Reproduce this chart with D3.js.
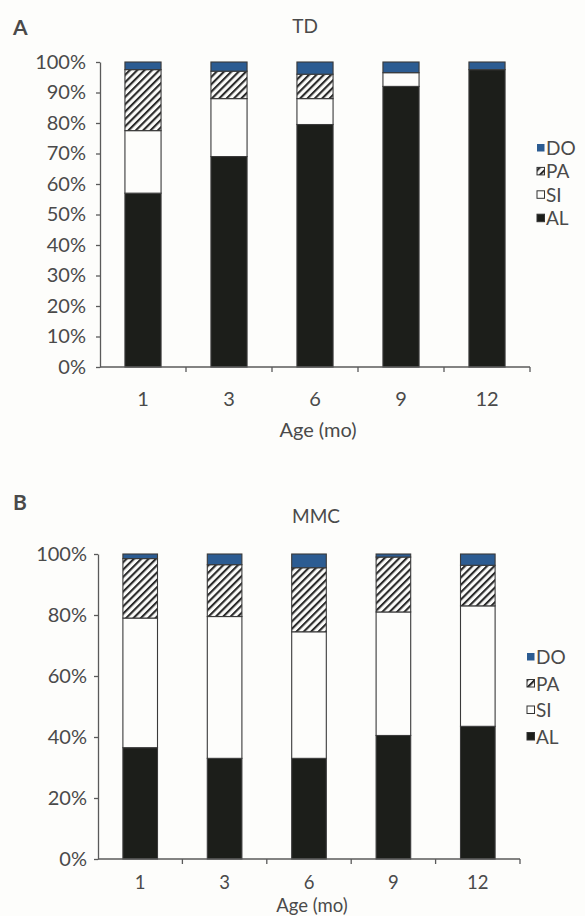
<!DOCTYPE html>
<html>
<head>
<meta charset="utf-8">
<script src="https://cdn.jsdelivr.net/npm/d3@7/dist/d3.min.js"></script>
<style>
  html, body { margin: 0; padding: 0; background: #fdfdfb; }
  svg { display: block; }
  text { font-family: Lato, "Noto Sans", sans-serif; fill: #4a4a4a; }
</style>
</head>
<body>
<svg id="chart" width="585" height="916"></svg>
<script>
// ---------- DATA ----------
const ages = ["1", "3", "6", "9", "12"];
const seriesKeys = ["AL", "SI", "PA", "DO"];
const legendOrder = ["DO", "PA", "SI", "AL"];

// Panel A: TD (percent)
const tdAL = [57, 69, 79.5, 92, 97.5];
const tdSI = [20.5, 19, 8.5, 4.5, 0];
const tdPA = [20, 9, 8, 0, 0];
const tdDO = [2.5, 3, 4, 3.5, 2.5];

// Panel B: MMC (percent)
const mmcAL = [36.5, 33, 33, 40.5, 43.5];
const mmcSI = [42.5, 46.5, 41.5, 40.5, 39.5];
const mmcPA = [19.5, 17, 21, 18, 13.3];
const mmcDO = [1.5, 3.5, 4.5, 1, 3.7];

const tdTicks = [0, 10, 20, 30, 40, 50, 60, 70, 80, 90, 100];
const mmcTicks = [0, 20, 40, 60, 80, 100];

// ---------- DRAW ----------
const svg = d3.select("#chart");
const defs = svg.append("defs");
defs.append("pattern")
  .attr("id", "hatch")
  .attr("patternUnits", "userSpaceOnUse")
  .attr("width", 5.2).attr("height", 5.2)
  .attr("patternTransform", "rotate(45)")
  .call(p => {
    p.append("rect").attr("width", 5.2).attr("height", 5.2).attr("fill", "#fbfbf9");
    p.append("rect").attr("x", 0).attr("y", 0).attr("width", 2.1).attr("height", 5.2).attr("fill", "#2a2a2a");
  });

const fills = { AL: "#1c1e1a", SI: "#fdfdfb", PA: "url(#hatch)", DO: "#2c5c92" };

function panel(cfg) {
  const rows = ages.map((a, i) => ({
    age: a, AL: cfg.AL[i], SI: cfg.SI[i], PA: cfg.PA[i], DO: cfg.DO[i]
  }));
  const stacked = d3.stack().keys(seriesKeys)(rows);

  const x = d3.scaleBand().domain(ages).range([cfg.x0, cfg.x1])
    .paddingInner(cfg.pad).paddingOuter(cfg.pad / 2);
  const y = d3.scaleLinear().domain([0, 100]).range([cfg.yBot, cfg.yTop]);
  const g = svg.append("g");

  // bars
  stacked.forEach(s => {
    g.append("g").selectAll("rect").data(s).join("rect")
      .attr("x", d => x(d.data.age))
      .attr("width", x.bandwidth())
      .attr("y", d => y(d[1]))
      .attr("height", d => Math.max(0, y(d[0]) - y(d[1])))
      .attr("fill", fills[s.key])
      .attr("stroke", d => (d[1] - d[0]) > 0 ? "#3a3a3a" : "none")
      .attr("stroke-width", 1.1);
  });

  // y axis
  const ya = g.append("g")
    .attr("transform", `translate(${cfg.x0},0)`)
    .call(d3.axisLeft(y).tickValues(cfg.ticks).tickFormat(d => d + "%")
      .tickSize(4).tickSizeOuter(0).tickPadding(cfg.tickPad));
  ya.select(".domain").attr("stroke", "#5a5a5a").attr("stroke-width", 1.3);
  ya.selectAll(".tick line").attr("stroke", "#5a5a5a").attr("stroke-width", 1.3);
  ya.selectAll(".tick text").style("font-size", "20px").attr("fill", "#4d4d4d")
    .style("font-family", 'Lato, "Noto Sans", sans-serif');

  // x axis line with boundary ticks
  const step = x.step();
  g.append("line")
    .attr("x1", cfg.x0).attr("x2", cfg.x1)
    .attr("y1", cfg.yBot).attr("y2", cfg.yBot)
    .attr("stroke", "#5a5a5a").attr("stroke-width", 1.3);
  g.append("g").selectAll("line").data(d3.range(1, ages.length + 1)).join("line")
    .attr("x1", i => cfg.x0 + i * step).attr("x2", i => cfg.x0 + i * step)
    .attr("y1", cfg.yBot).attr("y2", cfg.yBot + 5)
    .attr("stroke", "#5a5a5a").attr("stroke-width", 1.3);

  // x labels
  g.append("g").selectAll("text").data(ages).join("text")
    .attr("x", d => x(d) + x.bandwidth() / 2)
    .attr("y", cfg.xLabY)
    .attr("text-anchor", "middle")
    .style("font-size", cfg.xFont + "px")
    .text(d => d);

  g.append("text")
    .attr("x", (cfg.x0 + cfg.x1) / 2 + 3).attr("y", cfg.ageY)
    .attr("text-anchor", "middle").style("font-size", cfg.xFont + "px")
    .text("Age (mo)");

  // title & panel letter
  g.append("text").attr("x", cfg.titleX).attr("y", cfg.titleY)
    .attr("text-anchor", "middle").style("font-size", "19px").text(cfg.title);
  g.append("text").attr("x", 13).attr("y", cfg.letterY)
    .style("font-size", "21px").style("font-weight", "bold").attr("fill", "#333")
    .text(cfg.letter);

  // legend
  const lg = g.append("g");
  legendOrder.forEach((k, i) => {
    const cy = cfg.legY + i * cfg.legStep;
    lg.append("rect")
      .attr("x", cfg.legX).attr("y", cy - 4)
      .attr("width", 7.5).attr("height", 7.5)
      .attr("fill", k === "PA" ? "url(#hatch)" : fills[k])
      .attr("stroke", k === "DO" ? "none" : "#333").attr("stroke-width", 1);
    lg.append("text")
      .attr("x", cfg.legX + 9).attr("y", cy + 7)
      .style("font-size", "19px")
      .text(k);
  });
}

panel({
  AL: tdAL, SI: tdSI, PA: tdPA, DO: tdDO, ticks: tdTicks,
  x0: 100, x1: 530, pad: 0.58, yTop: 62, yBot: 367, tickPad: 10,
  xLabY: 406, ageY: 437, xFont: 20, title: "TD", titleX: 305, titleY: 33,
  letter: "A", letterY: 35, legX: 537, legY: 148, legStep: 23.4
});

panel({
  AL: mmcAL, SI: mmcSI, PA: mmcPA, DO: mmcDO, ticks: mmcTicks,
  x0: 98, x1: 520, pad: 0.59, yTop: 554, yBot: 859, tickPad: 7,
  xLabY: 889, ageY: 911.5, xFont: 18.5, title: "MMC", titleX: 316, titleY: 523,
  letter: "B", letterY: 510, legX: 527, legY: 657, legStep: 26.5
});
</script>
</body>
</html>
